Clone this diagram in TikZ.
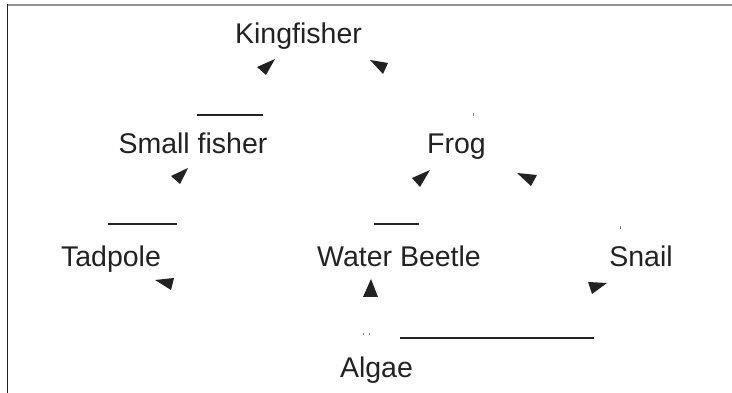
\documentclass[tikz,border=0pt]{standalone}
\usepackage{fontspec}
\setmainfont{Liberation Sans}
\definecolor{ink}{HTML}{222222}
\begin{document}
\begin{tikzpicture}[x=1pt,y=-1pt,
  lab/.style={font=\fontsize{28.5}{30}\selectfont, text=ink, inner sep=0pt, anchor=base},
  tri/.style={fill=ink, draw=none},
  bar/.style={draw=ink, line width=2pt},
  speck/.style={draw=gray, line width=0.8pt}]
\useasboundingbox (0,0) rectangle (732,393);
% frame
\draw[gray!85, line width=2pt] (7,5.5) -- (732,5.5);
\draw[ink, line width=1.5pt] (7.5,4.5) -- (7.5,393);
% labels
\node[lab] (king) at (298.5,44) {Kingfisher};
\node[lab] (small) at (193,154) {Small fisher};
\node[lab] (frog) at (456.5,154) {Frog};
\node[lab] (tad) at (111,266) {Tadpole};
\node[lab] (beetle) at (399,266) {Water Beetle};
\node[lab] (snail) at (641,266) {Snail};
\node[lab] (algae) at (376.5,377) {Algae};
% horizontal bars
\draw[bar] (197,115) -- (263,115);
\draw[bar] (108,224) -- (177,224);
\draw[bar] (374,224) -- (419,224);
\draw[bar] (400,338) -- (594,338);
% arrowheads
\fill[tri] (275,59) -- (257,67) -- (266,75) -- cycle;
\fill[tri] (370,60) -- (388,63) -- (383,74) -- cycle;
\fill[tri] (188,168) -- (171,176) -- (180,184) -- cycle;
\fill[tri] (430,170) -- (412,178) -- (420,187) -- cycle;
\fill[tri] (517,173) -- (537,175) -- (531,186) -- cycle;
\fill[tri] (155,280) -- (174,278) -- (171,290) -- cycle;
\fill[tri] (371,279) -- (363,297) -- (378,297) -- cycle;
\fill[tri] (588,282) -- (607,283) -- (592,294) -- cycle;
% specks
\draw[speck] (473,113.5) -- (473,116);
\draw[speck] (620,226.5) -- (620,229);
\draw[speck] (363,332.5) -- (363,335);
\draw[speck] (369,332.5) -- (369,335);
\end{tikzpicture}
\end{document}
